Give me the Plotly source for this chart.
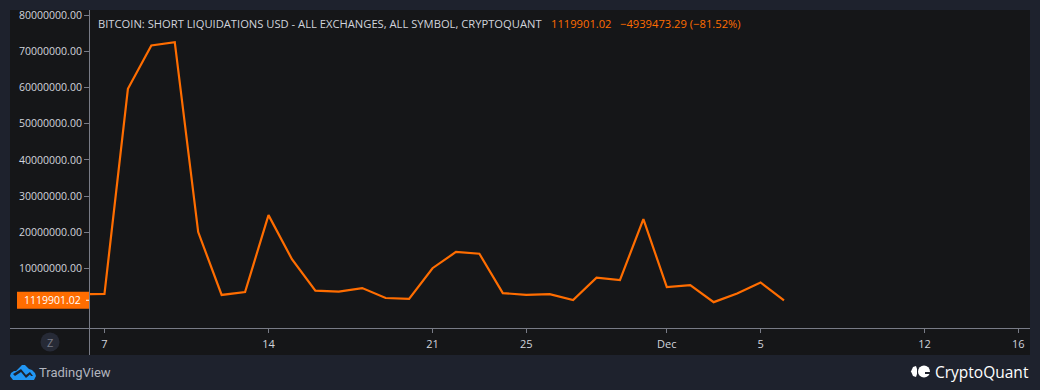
import plotly.graph_objects as go

dates = ["2022-11-%02d" % d for d in range(6, 31)] + ["2022-12-%02d" % d for d in range(1, 7)]
short_liq_usd = [2800000, 2900000, 59700000, 71700000, 72600000, 20000000, 2600000, 3400000,
                 24700000, 12500000, 3800000, 3500000, 4500000, 1750000, 1500000, 10000000,
                 14500000, 14000000, 3100000, 2600000, 2800000, 1200000, 7400000, 6700000,
                 23600000, 4800000, 5300000, 600000, 3000000, 6059374.31, 1119901.02]
x_tick_dates = ["2022-11-07", "2022-11-14", "2022-11-21", "2022-11-25", "2022-12-01",
                "2022-12-05", "2022-12-12", "2022-12-16"]
x_tick_labels = ["7", "14", "21", "25", "Dec", "5", "12", "16"]
y_tick_values = [10000000, 20000000, 30000000, 40000000, 50000000, 60000000, 70000000, 80000000]
title_text = "BITCOIN: SHORT LIQUIDATIONS USD - ALL EXCHANGES, ALL SYMBOL, CRYPTOQUANT"
last_text = "1119901.02"
change_text = "−4939473.29 (−81.52%)"

W, H = 1040, 390
L, R, T, B = 90, 1030, 10, 328
OUTER, PANEL, ORANGE, AXIS, TXT = "#1e222d", "#151618", "#ff6d00", "#787b86", "#d1d4dc"
FONT = "Open Sans"

def px(x): return (x - L) / (R - L)
def py(y): return (B - y) / (B - T)
def path(pts):
    return "M" + "L".join(f"{px(a):.5f},{py(b):.5f}" for a, b in pts) + "Z"

fig = go.Figure(go.Scatter(x=dates, y=short_liq_usd, mode="lines", hoverinfo="skip",
                           line=dict(color=ORANGE, width=2.2)))

shapes = [
    dict(type="rect", xref="paper", yref="paper", x0=px(10), x1=px(1030), y0=py(355), y1=py(10),
         fillcolor=PANEL, line_width=0, layer="below"),
    dict(type="line", xref="paper", yref="paper", x0=px(89.5), x1=px(89.5), y0=py(355), y1=py(10),
         line=dict(color=AXIS, width=1)),
    dict(type="line", xref="paper", yref="paper", x0=px(10), x1=px(90), y0=py(328.5), y1=py(328.5),
         line=dict(color=AXIS, width=1)),
    dict(type="rect", xref="paper", yref="y", x0=px(17), x1=px(89), ysizemode="pixel",
         yanchor=short_liq_usd[-1], y0=-8.5, y1=8.5, fillcolor=ORANGE, line_width=0),
    dict(type="line", xref="paper", yref="y", x0=px(86), x1=px(89), ysizemode="pixel",
         yanchor=short_liq_usd[-1], y0=0, y1=0, line=dict(color="#ffffff", width=1)),
    dict(type="circle", xref="paper", yref="paper", x0=px(40.5), x1=px(59.5), y0=py(351.5), y1=py(332.5),
         fillcolor="#262a36", line_width=0),
    # TradingView cloud
    dict(type="path", xref="paper", yref="paper", fillcolor="#2196f3", line_width=0,
         path=path([(10, 376), (11, 373), (14, 371), (16, 371), (22, 365), (25, 365), (29, 369),
                    (32, 370), (35, 373), (36, 376), (34, 380), (13, 380)])),
    dict(type="path", xref="paper", yref="paper", fillcolor=OUTER, line_width=0,
         path=path([(13, 374), (21, 369), (26, 375), (30, 372), (33, 376), (31, 376), (30, 374.5),
                    (26, 378), (21, 372), (15, 376)])),
    # CryptoQuant mark
    dict(type="path", xref="paper", yref="paper", fillcolor="#ffffff", line_width=0,
         path=path([(916, 366), (913, 367), (911, 371.5), (913, 376), (916, 377), (917, 374), (917, 369)])),
    dict(type="circle", xref="paper", yref="paper", x0=px(918), x1=px(930), y0=py(377.5), y1=py(365.5),
         fillcolor="#ffffff", line_width=0),
    dict(type="rect", xref="paper", yref="paper", x0=px(925), x1=px(930), y0=py(374), y1=py(372),
         fillcolor=OUTER, line_width=0),
]

def note(text, x, y, color=TXT, size=11.2, anchor="left", family=FONT):
    return dict(text=text, xref="paper", yref="paper", x=px(x), y=py(y), showarrow=False,
                xanchor=anchor, yanchor="middle", borderpad=0, borderwidth=0,
                font=dict(color=color, size=size, family=family))

annotations = [
    note(title_text, 98, 24),
    note(last_text, 551, 24, ORANGE),
    note(change_text, 620, 24, ORANGE),
    note(last_text, 81, 300, "#ffffff", size=10.5, anchor="right"),
    note("Z", 50, 342, "#787b86", 11, anchor="center"),
    note("TradingView", 39, 372.5, "#b2b5be", 13, family="Roboto"),
    note("CryptoQuant", 1029, 372, "#ffffff", 15.5, anchor="right"),
]

fig.update_layout(
    width=W, height=H, autosize=False,
    margin=dict(l=L, r=W - R, t=T, b=H - B, pad=0),
    paper_bgcolor=OUTER, plot_bgcolor="rgba(0,0,0,0)",
    showlegend=False, shapes=shapes, annotations=annotations,
    font=dict(family=FONT, size=11, color=TXT),
    xaxis=dict(type="date", range=["2022-11-06 09:10", "2022-12-16 12:00"], automargin=False,
               tickmode="array", tickvals=x_tick_dates, ticktext=x_tick_labels,
               ticks="outside", ticklen=4, tickcolor=AXIS, tickwidth=1,
               showgrid=False, zeroline=False, showline=True, linecolor=AXIS, linewidth=1,
               tickfont=dict(color=TXT, size=11), ticklabelstandoff=2),
    yaxis=dict(range=[-6560000, 81520000], tickmode="array", tickvals=y_tick_values, automargin=False,
               tickformat=".2f", ticks="outside", ticklen=5, tickcolor=AXIS, tickwidth=1,
               showgrid=False, zeroline=False, showline=False,
               tickfont=dict(color=TXT, size=10.5)),
)

fig.write_html("out.html", config=dict(displayModeBar=False), post_script=(
    "document.documentElement.style.background='%s';"
    "document.body.style.margin='0';document.body.style.overflow='hidden';"
    "window.dispatchEvent(new Event('resize'));" % OUTER))
